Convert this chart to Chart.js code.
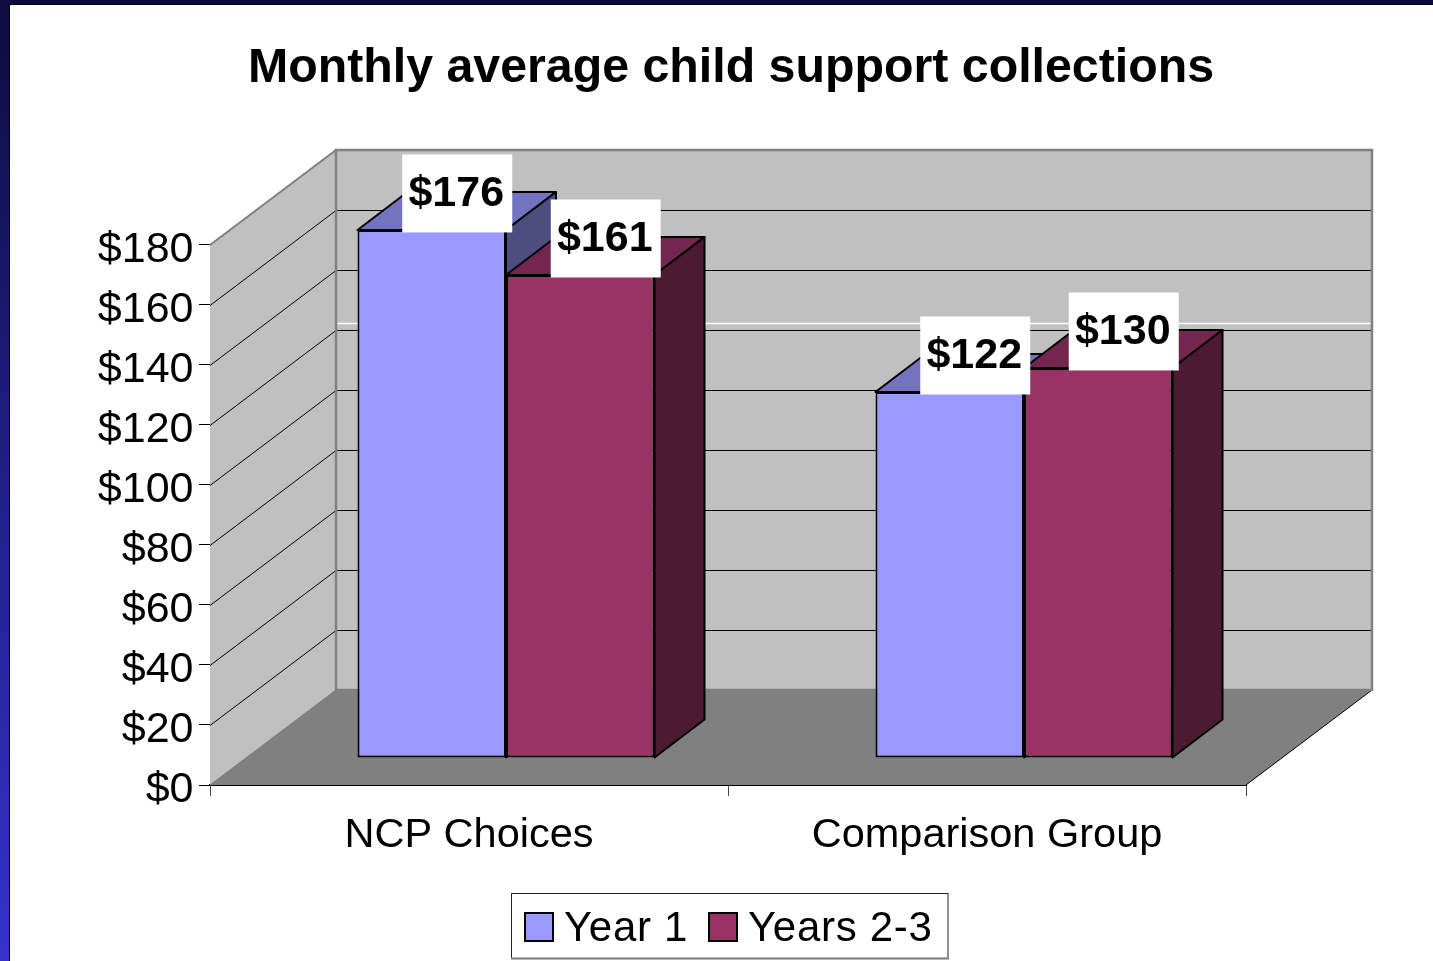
<!DOCTYPE html>
<html>

<head>
    <title>Monthly average child support collections</title>
    <style>
        html, body { margin: 0; height: 100%; overflow: hidden; }
        body { background: linear-gradient(to bottom, #0c0c40, #3333cc); }
        #sheet {
            position: absolute; left: 9px; top: 4px; right: 0; bottom: 0;
            background: #fff; border-left: 1.5px solid #000; border-top: 1.5px solid #000;
        }
        #wrap { position: absolute; left: 0; top: 0; width: 1433px; height: 961px; }
    </style>
    <script src="https://cdn.jsdelivr.net/npm/chart.js@4"></script>
</head>

<body>
    <div id="sheet"></div>
    <div id="wrap"><canvas id="chart" width="1433" height="961"></canvas></div>

    <script>
        var categories = ['NCP Choices', 'Comparison Group'];
        var seriesNames = ['Year 1', 'Years 2-3'];
        var year1 = [176, 122];
        var years23 = [161, 130];

        var frontColors = ['#9999ff', '#993366'];
        var topColors = ['#7373bf', '#732650'];
        var sideColors = ['#4d4d80', '#4d1a33'];

        // 3d look: how far the back wall sits from the front plane, and where the bars sit
        var wallDx = 126, wallDy = -95;
        var barDx = 37, barDy = -27;
        var depthDx = 50, depthDy = -38;

        var font = '"Liberation Sans", Arial, sans-serif';

        function poly(ctx, pts, fill, stroke, lw) {
            ctx.beginPath();
            ctx.moveTo(pts[0][0], pts[0][1]);
            for (var i = 1; i < pts.length; i++) ctx.lineTo(pts[i][0], pts[i][1]);
            ctx.closePath();
            if (fill) { ctx.fillStyle = fill; ctx.fill(); }
            if (stroke) { ctx.strokeStyle = stroke; ctx.lineWidth = lw; ctx.stroke(); }
        }

        function line(ctx, x1, y1, x2, y2, color, lw) {
            ctx.beginPath();
            ctx.moveTo(x1, y1);
            ctx.lineTo(x2, y2);
            ctx.strokeStyle = color;
            ctx.lineWidth = lw;
            ctx.stroke();
        }

        var walls = {
            id: 'walls',
            afterLayout: function (chart) {
                // title is centred on the page, not on the plot
                chart.titleBlock.left += 93;
                chart.titleBlock.right += 93;
            },
            beforeDatasetsDraw: function (chart) {
                var ctx = chart.ctx, a = chart.chartArea, y = chart.scales.y;
                var l = a.left, r = a.right, t = a.top, b = a.bottom;
                ctx.save();
                // floor
                poly(ctx, [[l, b], [l + wallDx, b + wallDy], [r + wallDx, b + wallDy], [r, b]], '#808080');
                line(ctx, r, b, r + wallDx, b + wallDy, '#000', 1);
                // left wall
                poly(ctx, [[l, t], [l + wallDx, t + wallDy], [l + wallDx, b + wallDy], [l, b]], '#c0c0c0');
                // back wall
                poly(ctx, [[l + wallDx, t + wallDy], [r + wallDx, t + wallDy], [r + wallDx, b + wallDy], [l + wallDx, b + wallDy]], '#c0c0c0');
                y.ticks.forEach(function (tick) {
                    if (tick.value === 0 || tick.value === 180) return;
                    var py = Math.round(y.getPixelForValue(tick.value)) + 0.5;
                    line(ctx, l, py, l + wallDx, py + wallDy, '#000', 1);
                    line(ctx, l + wallDx, py + wallDy, r + wallDx, py + wallDy, '#000', 1);
                });
                // stray white line on the back wall in the original
                line(ctx, l + wallDx, 323.5, r + wallDx, 323.5, '#fff', 1.5);
                poly(ctx, [[l + wallDx, t + wallDy], [r + wallDx, t + wallDy], [r + wallDx, b + wallDy], [l + wallDx, b + wallDy]], null, '#808080', 2.5);
                line(ctx, l, t, l + wallDx, t + wallDy, '#808080', 2);
                line(ctx, l, b, l + wallDx, b + wallDy, '#777', 1);

                // top and side faces go under the fronts
                ctx.translate(barDx, barDy);
                ctx.lineJoin = 'round';
                chart.data.datasets.forEach(function (ds, i) {
                    chart.getDatasetMeta(i).data.forEach(function (bar) {
                        var x1 = bar.x - bar.width / 2, x2 = bar.x + bar.width / 2;
                        poly(ctx, [[x1, bar.y], [x1 + depthDx, bar.y + depthDy], [x2 + depthDx, bar.y + depthDy], [x2, bar.y]], topColors[i], '#000', 2);
                        poly(ctx, [[x2, bar.y], [x2 + depthDx, bar.y + depthDy], [x2 + depthDx, bar.base + depthDy], [x2, bar.base]], sideColors[i], '#000', 2);
                    });
                });
                ctx.restore();
                // front faces are the real bars, moved back onto the floor
                ctx.save();
                ctx.translate(barDx, barDy);
            },
            afterDatasetsDraw: function (chart) {
                var ctx = chart.ctx;
                ctx.restore();
                ctx.save();
                ctx.font = 'bold 43px ' + font;
                ctx.textAlign = 'center';
                ctx.textBaseline = 'middle';
                chart.data.datasets.forEach(function (ds, i) {
                    chart.getDatasetMeta(i).data.forEach(function (bar, j) {
                        var cx = bar.x + barDx + 25.5, cy = bar.y + barDy - 36.5;
                        ctx.fillStyle = '#fff';
                        ctx.fillRect(cx - 55, cy - 39, 110, 78);
                        ctx.fillStyle = '#000';
                        ctx.fillText('$' + ds.data[j], cx - 1, cy + 1);
                    });
                });
                ctx.restore();
            },
            afterDraw: function (chart) {
                // legend box
                var ctx = chart.ctx;
                ctx.save();
                ctx.fillStyle = '#fff';
                ctx.fillRect(511.5, 893.5, 436.5, 65);
                ctx.strokeStyle = '#222';
                ctx.lineWidth = 1;
                ctx.strokeRect(511.5, 893.5, 436.5, 65);
                line(ctx, 511, 958.5, 949, 958.5, '#777', 2);
                ctx.font = '42px ' + font;
                ctx.letterSpacing = '0.7px';
                ctx.textBaseline = 'alphabetic';
                ctx.textAlign = 'left';
                var swatchX = [525, 709], textX = [564, 748];
                chart.data.datasets.forEach(function (ds, i) {
                    ctx.fillStyle = frontColors[i];
                    ctx.fillRect(swatchX[i], 913, 28, 28);
                    ctx.strokeStyle = '#000';
                    ctx.lineWidth = 2;
                    ctx.strokeRect(swatchX[i], 913, 28, 28);
                    ctx.fillStyle = '#000';
                    ctx.fillText(ds.label, textX[i], 941);
                });
                ctx.restore();
            }
        };

        new Chart(document.getElementById('chart'), {
            type: 'bar',
            data: {
                labels: categories,
                datasets: [
                    { label: seriesNames[0], data: year1, backgroundColor: frontColors[0], borderColor: '#000', borderWidth: 2, borderSkipped: false },
                    { label: seriesNames[1], data: years23, backgroundColor: frontColors[1], borderColor: '#000', borderWidth: 2, borderSkipped: false }
                ]
            },
            options: {
                responsive: false,
                animation: false,
                categoryPercentage: 0.5734,
                barPercentage: 1,
                layout: { padding: { left: 30, right: 187, top: 0, bottom: 0 } },
                plugins: {
                    legend: { display: false },
                    tooltip: { enabled: false },
                    title: {
                        display: true,
                        text: 'Monthly average child support collections',
                        color: '#000',
                        font: { family: font, size: 48.3, weight: 'bold' },
                        padding: { top: 40, bottom: 147 }
                    }
                },
                scales: {
                    x: {
                        afterFit: function (scale) { scale.height = 176; },
                        grid: { drawOnChartArea: false, tickLength: 11, color: '#444' },
                        border: { color: '#000', width: 2 },
                        ticks: { color: '#000', padding: 15, maxRotation: 0, font: { family: font, size: 41.5 } }
                    },
                    y: {
                        min: 0,
                        max: 180,
                        afterFit: function (scale) { scale.width = 180; },
                        grid: { drawOnChartArea: false, tickLength: 11, color: '#000' },
                        border: { color: '#444', width: 1 },
                        ticks: {
                            stepSize: 20,
                            color: '#000',
                            padding: 5.5,
                            labelOffset: 5,
                            font: { family: font, size: 43 },
                            callback: function (v) { return '$' + v; }
                        }
                    }
                }
            },
            plugins: [walls]
        });
    </script>
</body>

</html>
